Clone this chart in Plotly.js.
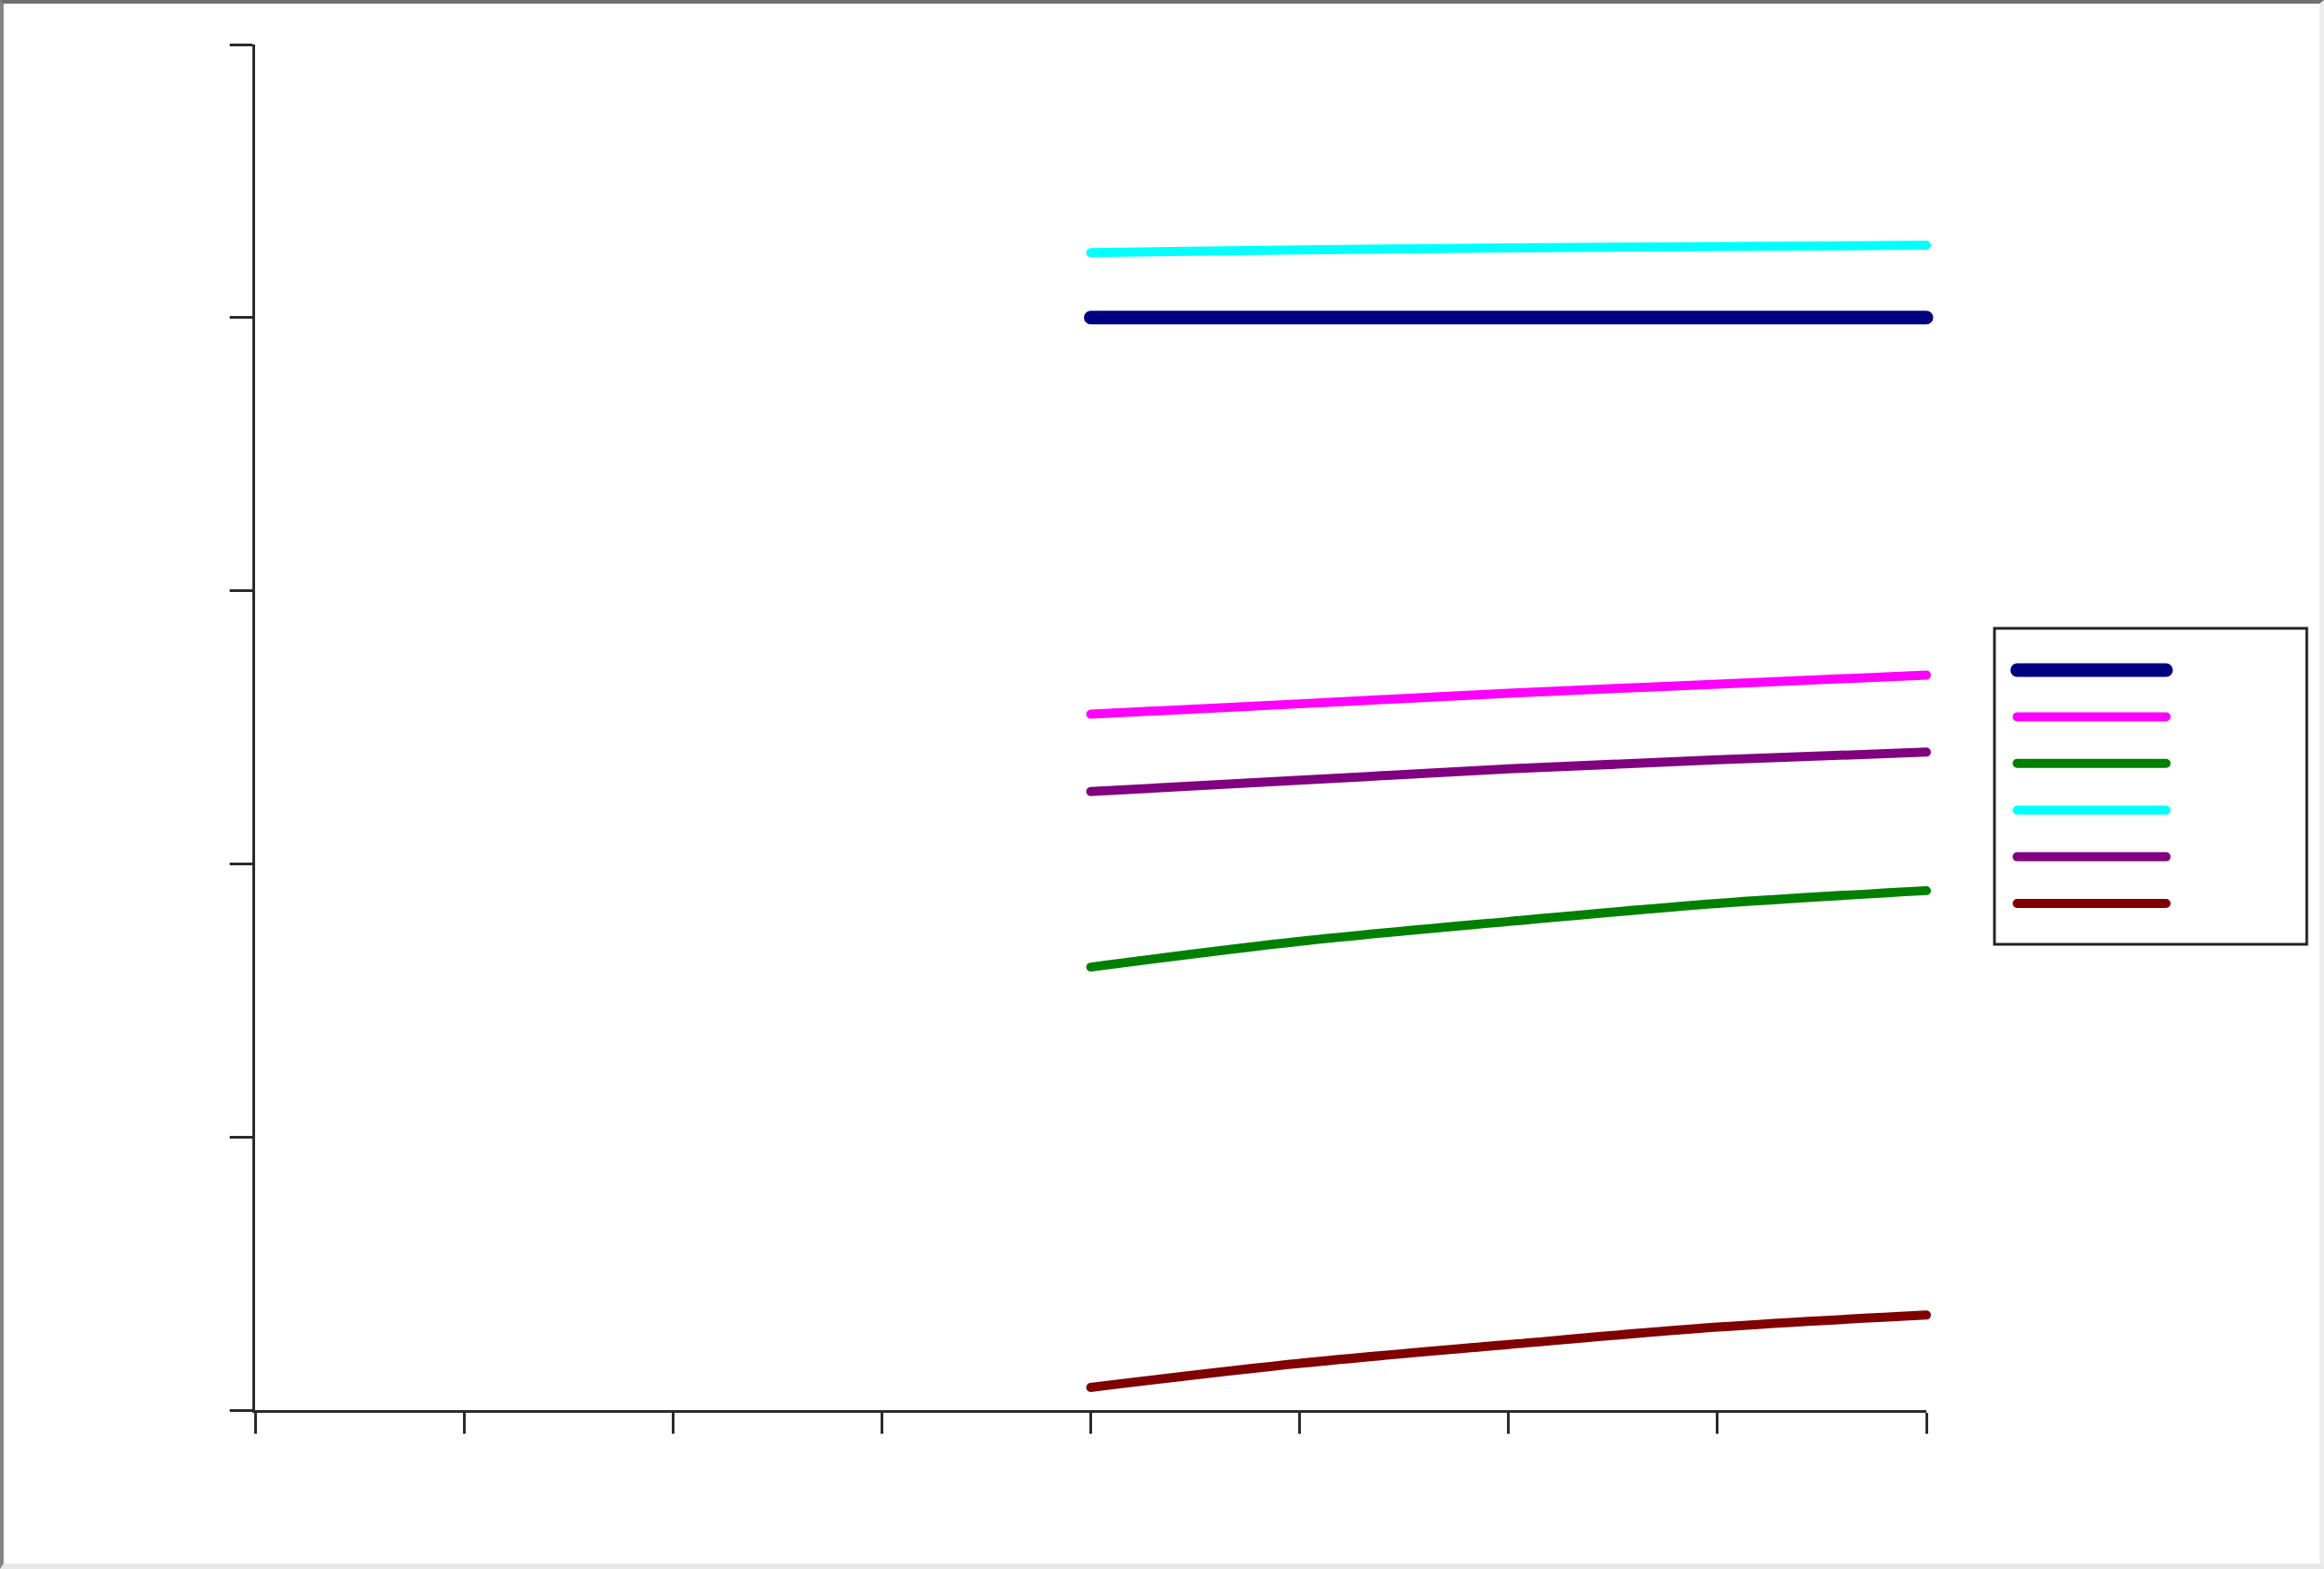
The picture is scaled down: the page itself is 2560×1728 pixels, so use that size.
<!DOCTYPE html>
<html>
<head>
<meta charset="utf-8">
<script src="https://cdn.plot.ly/plotly-3.0.1.min.js"></script>
<style>
  html, body { margin: 0; padding: 0; background: #ffffff; }
  #wrap { position: relative; width: 2560px; height: 1728px; overflow: hidden; }
  #chart { position: absolute; left: 0; top: 0; width: 2560px; height: 1728px; }
  #frame { position: absolute; left: 0; top: 0; width: 2560px; height: 1728px; box-sizing: border-box;
           border-top: 4px solid #707070; border-left: 4px solid #858585;
           border-right: 5px solid #ececec; border-bottom: 6px solid #e8e8e8; pointer-events: none; }
  .scatterlayer path.js-line { stroke-linecap: round; }
  .shapelayer path { stroke-linecap: round; }
  .cartesianlayer g, .cartesianlayer path { clip-path: none !important; }
</style>
</head>
<body>
<div id="wrap">
  <div id="chart"></div>
  <div id="frame"></div>
</div>
<script>
// ---- data ----
const xValues = [4, 5, 6, 7, 8];

const seriesNavy    = [4.000, 4.000, 4.000, 4.000, 4.000];
const seriesMagenta = [2.548, 2.586, 2.625, 2.658, 2.691];
const seriesGreen   = [1.622, 1.716, 1.789, 1.855, 1.902];
const seriesCyan    = [4.238, 4.248, 4.255, 4.260, 4.265];
const seriesPurple  = [2.265, 2.306, 2.348, 2.381, 2.409];
const seriesDarkRed = [0.083, 0.171, 0.240, 0.304, 0.348];

// legend order as in the reference
const seriesList   = [seriesNavy, seriesMagenta, seriesGreen, seriesCyan, seriesPurple, seriesDarkRed];
const seriesColors = ['#000080', '#ff00ff', '#008000', '#00ffff', '#800080', '#800000'];
const seriesWidths = [15, 10, 10, 10, 10, 10];

const xTicks = [0, 1, 2, 3, 4, 5, 6, 7, 8];
const yTicks = [0, 1, 2, 3, 4, 5];

// ---- geometry (pixels) ----
const W = 2560, H = 1728;
const plotL = 281, plotR = 2122, plotT = 49, plotB = 1553;
const pw = plotR - plotL, ph = plotB - plotT;
const px = v => (v - plotL) / pw;
const py = v => (plotB - v) / ph;

const traces = seriesList.map((ys, i) => ({
  type: 'scatter',
  mode: 'lines',
  x: xValues,
  y: ys,
  cliponaxis: false,
  line: { color: seriesColors[i], width: seriesWidths[i], shape: 'spline', smoothing: 1 },
  showlegend: false,
  hoverinfo: 'skip'
}));

// legend drawn as shapes (long sample lines, boxed)
const legBox = { l: 2197, r: 2541, t: 692, b: 1040 };
const legLineX0 = 2222, legLineX1 = 2386;
const legY0 = 738, legDy = 51.4;
const shapes = [{
  type: 'rect', xref: 'paper', yref: 'paper',
  x0: px(legBox.l), x1: px(legBox.r), y0: py(legBox.b), y1: py(legBox.t),
  line: { color: '#222222', width: 3 }, fillcolor: '#ffffff', layer: 'above'
}];
seriesColors.forEach((c, i) => {
  const y = legY0 + i * legDy;
  shapes.push({
    type: 'line', xref: 'paper', yref: 'paper',
    x0: px(legLineX0), x1: px(legLineX1), y0: py(y), y1: py(y),
    line: { color: c, width: seriesWidths[i] }, layer: 'above'
  });
});

const layout = {
  width: W, height: H,
  margin: { l: plotL, r: W - plotR, t: plotT, b: H - plotB, pad: 0 },
  paper_bgcolor: '#ffffff',
  plot_bgcolor: '#ffffff',
  showlegend: false,
  xaxis: {
    range: [0, 8], tickmode: 'array', tickvals: xTicks, showticklabels: false,
    ticks: 'outside', ticklen: 23, tickwidth: 3, tickcolor: '#2a2a2a',
    showline: true, linecolor: '#2a2a2a', linewidth: 3,
    showgrid: false, zeroline: false, fixedrange: true
  },
  yaxis: {
    range: [0, 5], tickmode: 'array', tickvals: yTicks, showticklabels: false,
    ticks: 'outside', ticklen: 25, tickwidth: 3, tickcolor: '#2a2a2a',
    showline: true, linecolor: '#2a2a2a', linewidth: 3,
    showgrid: false, zeroline: false, fixedrange: true
  },
  shapes: shapes
};

Plotly.newPlot('chart', traces, layout, { displayModeBar: false, staticPlot: true });
</script>
</body>
</html>
